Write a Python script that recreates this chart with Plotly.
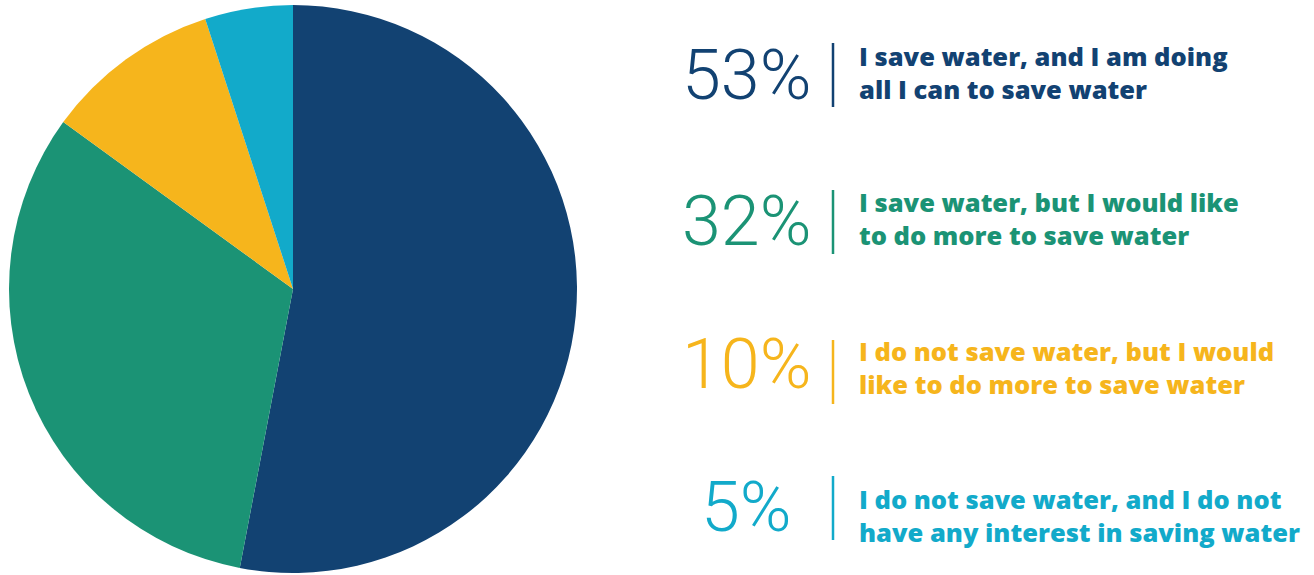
import plotly.graph_objects as go

labels = [
    "I save water, and I am doing<br>all I can to save water",
    "I save water, but I would like<br>to do more to save water",
    "I do not save water, but I would<br>like to do more to save water",
    "I do not save water, and I do not<br>have any interest in saving water",
]
values = [53, 32, 10, 5]
colors = ["#124272", "#1b9375", "#f6b51c", "#12aaca"]

W, H = 1314, 575

fig = go.Figure()
fig.add_trace(go.Pie(
    values=values,
    labels=[l.replace("<br>", " ") for l in labels],
    marker=dict(colors=colors, line=dict(width=0)),
    sort=False,
    direction="clockwise",
    rotation=0,
    textinfo="none",
    hoverinfo="label+percent",
    showlegend=False,
    domain=dict(x=[8 / W, 578 / W], y=[1 - 573 / H, 1 - 5 / H]),
))

pct_y = [75, 221, 364, 507]
txt_y = [72, 219, 367, 515]
line_y = [75, 222, 372, 508]
for v, lab, col, py, ty, ly in zip(values, labels, colors, pct_y, txt_y, line_y):
    fig.add_annotation(
        x=746 / W, y=1 - py / H, xref="paper", yref="paper",
        text=f"{v}%", showarrow=False, xanchor="center", yanchor="middle",
        font=dict(family="Roboto", size=70, color=col, weight=300),
    )
    fig.add_shape(
        type="line", xref="paper", yref="paper",
        x0=833 / W, x1=833 / W, y0=1 - (ly - 32) / H, y1=1 - (ly + 32) / H,
        line=dict(color=col, width=2.5),
    )
    fig.add_annotation(
        x=857 / W, y=1 - ty / H, xref="paper", yref="paper",
        text=lab, showarrow=False, xanchor="left", yanchor="middle", align="left",
        font=dict(family="Open Sans", size=25.5, color=col, weight=800),
    )

fig.update_layout(
    width=W, height=H,
    margin=dict(l=0, r=0, t=0, b=0),
    paper_bgcolor="white", plot_bgcolor="white",
)
fig.write_html("out.html")
